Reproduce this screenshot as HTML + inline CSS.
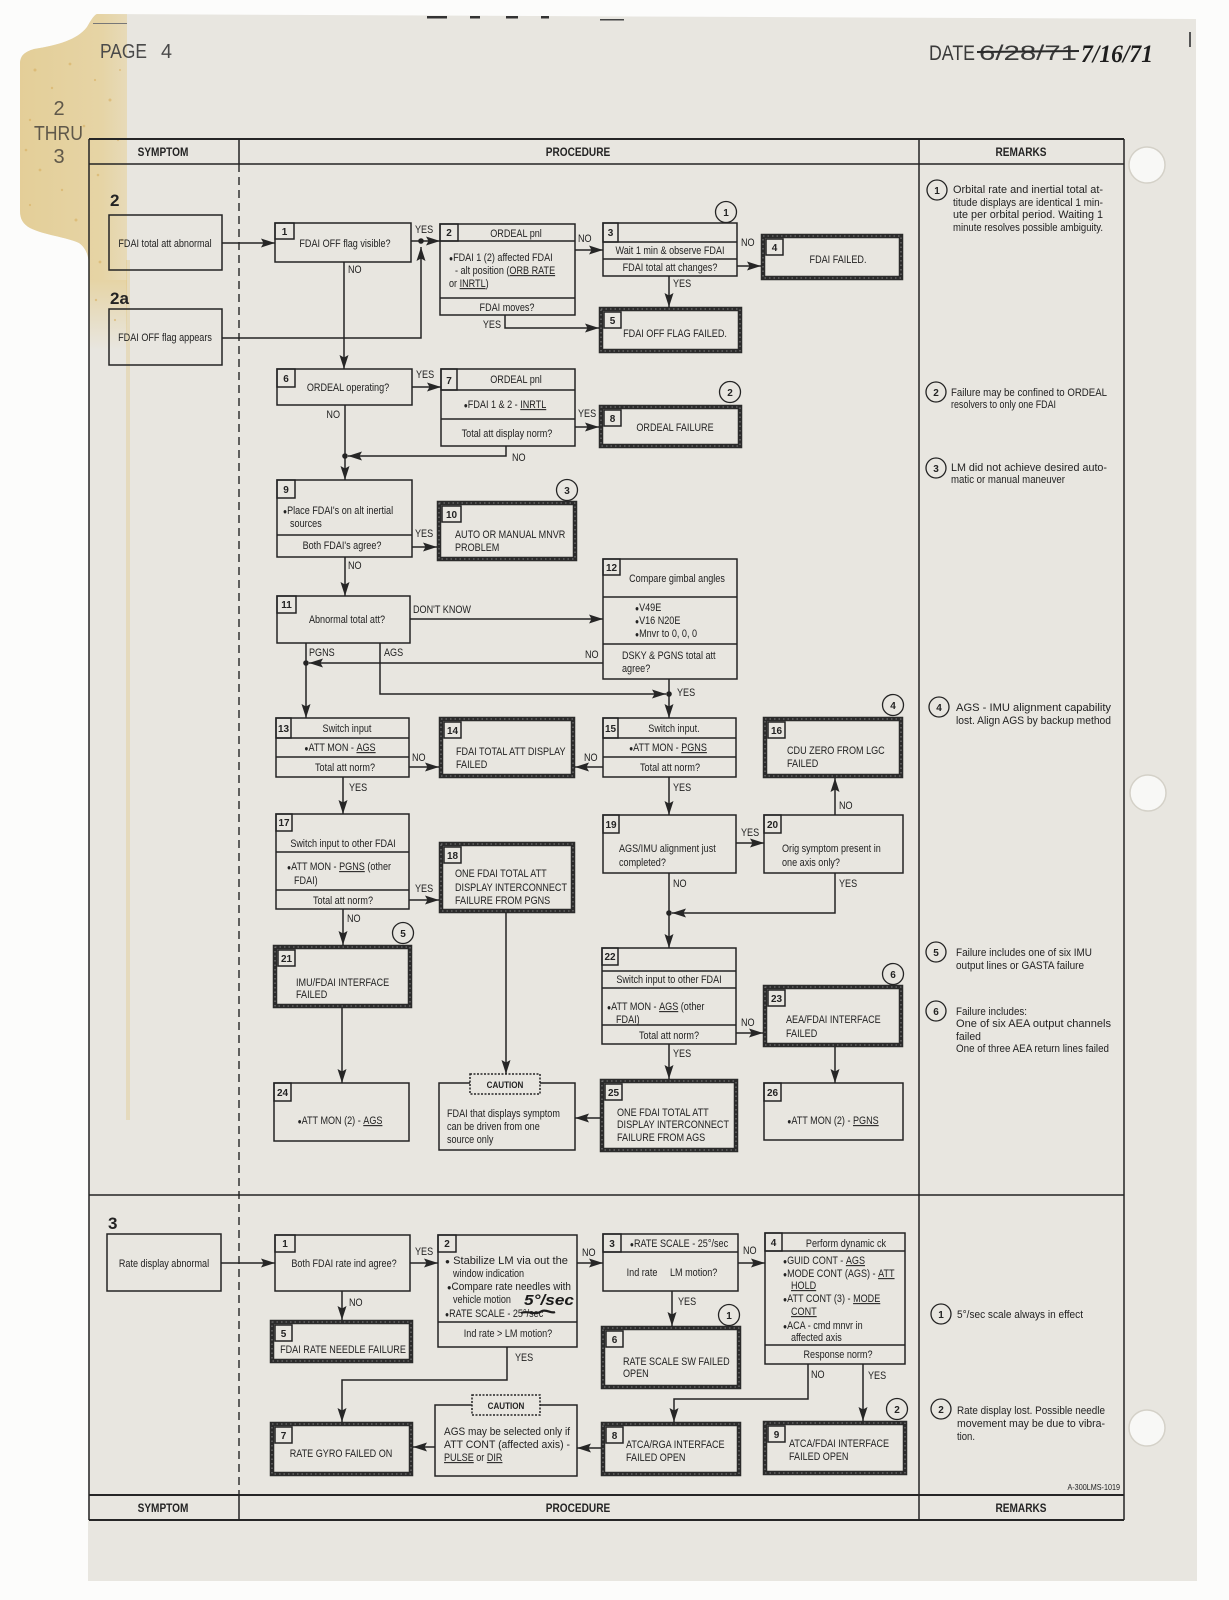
<!DOCTYPE html>
<html><head><meta charset="utf-8"><title>Page 4</title>
<style>html,body{margin:0;padding:0;background:#fcfcfb}svg{display:block}</style></head>
<body>
<svg xmlns="http://www.w3.org/2000/svg" width="1229" height="1600" viewBox="0 0 1229 1600">
<defs>
<marker id="a" markerUnits="userSpaceOnUse" markerWidth="15" markerHeight="11" refX="14" refY="5.5" orient="auto"><path d="M0,1 L14,5.5 L0,10 L2.5,5.5 Z" fill="#262626"/></marker>
<linearGradient id="st" x1="0" x2="1" y1="0" y2="0"><stop offset="0" stop-color="#e3cd95"/><stop offset="0.8" stop-color="#e6d4a5"/><stop offset="1" stop-color="#e7dab8"/></linearGradient>
<linearGradient id="st2" x1="0" x2="0" y1="0" y2="1"><stop offset="0" stop-color="#e6d4a5"/><stop offset="1" stop-color="#e8e6e0"/></linearGradient>
<clipPath id="pg"><path d="M97,14 L1196,19 L1197,1581 L88,1581 L89,267 C89,256 86,248 79,243 C66,237 44,235 30,228 C23,224 20,219 20,211 L20,64 C20,56 24,52 34,49 C58,45 77,40 87,27 C91,20 94,15 97,14 Z"/></clipPath>
</defs>
<style>
text{font-family:"Liberation Sans",Arial,sans-serif;font-size:10.8px;fill:#232323}
.c{text-anchor:middle}
.e{text-anchor:end}
.b{font-weight:bold}
.bx{fill:none;stroke:#242424;stroke-width:1.5}
.tk{fill:none;stroke:#2b2b2b;stroke-width:4.5}
.tx{fill:none;stroke:#9a9a9a;stroke-width:.8;stroke-dasharray:1.5 3}
.l{fill:none;stroke:#242424;stroke-width:1.5}
.m{marker-end:url(#a)}
.n{font-weight:bold;font-size:10px;text-anchor:middle}
.u{text-decoration:underline}
.cc{fill:#e8e6e0;stroke:#242424;stroke-width:1.3}
.dot{fill:#242424}
</style>

<!-- background and page -->
<rect width="1229" height="1600" fill="#fcfcfb"/>
<path d="M97,14 L1196,19 L1197,1581 L88,1581 L89,267 C89,256 86,248 79,243 C66,237 44,235 30,228 C23,224 20,219 20,211 L20,64 C20,56 24,52 34,49 C58,45 77,40 87,27 C91,20 94,15 97,14 Z" fill="#e8e6e0"/>
<g clip-path="url(#pg)">
<rect x="0" y="0" width="127" height="280" fill="url(#st)"/>
<rect x="88" y="280" width="39" height="70" fill="url(#st2)"/>
<rect x="126" y="260" width="4" height="860" fill="#e0c27c" opacity=".35"/>
<g fill="#d6ac5c" opacity=".55">
<circle cx="35" cy="70" r="1.5"/><circle cx="52" cy="88" r="1.2"/><circle cx="70" cy="64" r="1.4"/><circle cx="95" cy="80" r="1.1"/><circle cx="110" cy="100" r="1.5"/><circle cx="30" cy="120" r="1.2"/><circle cx="84" cy="126" r="1.3"/><circle cx="118" cy="140" r="1.1"/><circle cx="40" cy="170" r="1.4"/><circle cx="62" cy="190" r="1.2"/><circle cx="98" cy="175" r="1.3"/><circle cx="30" cy="205" r="1.1"/><circle cx="76" cy="220" r="1.5"/><circle cx="112" cy="205" r="1.2"/><circle cx="122" cy="240" r="1.3"/><circle cx="100" cy="262" r="1.4"/><circle cx="26" cy="150" r="1.3"/><circle cx="58" cy="150" r="1"/><circle cx="104" cy="50" r="1.2"/><circle cx="120" cy="70" r="1"/><circle cx="96" cy="300" r="1.2"/><circle cx="115" cy="320" r="1.1"/>
</g>
</g>
<!-- top marks -->
<rect x="427" y="16" width="20" height="2.5" fill="#333"/>
<rect x="470" y="16" width="10" height="2.5" fill="#333"/>
<rect x="506" y="16" width="12" height="2.5" fill="#333"/>
<rect x="541" y="16" width="8" height="2.5" fill="#333"/>
<rect x="600" y="19" width="24" height="1.5" fill="#444"/>
<rect x="93" y="23" width="34" height="1" fill="#777"/>
<rect x="1189" y="32" width="2" height="15" fill="#555"/>
<!-- holes -->
<g>
<circle cx="1147" cy="165" r="18" fill="#f8f8f6" stroke="#d4d1c8" stroke-width="1.5"/>
<circle cx="1148" cy="793" r="18" fill="#f8f8f6" stroke="#d4d1c8" stroke-width="1.5"/>
<circle cx="1147" cy="1428" r="18" fill="#f8f8f6" stroke="#d4d1c8" stroke-width="1.5"/>
</g>

<!-- page header texts -->
<text x="100" y="58" style="font-size:20px;fill:#4a4a4a" textLength="47" lengthAdjust="spacingAndGlyphs">PAGE</text>
<text x="161" y="58" style="font-size:20px;fill:#4a4a4a" textLength="11" lengthAdjust="spacingAndGlyphs">4</text>
<text class="c" x="59" y="115" style="font-size:20px;fill:#5f584a">2</text>
<text x="34" y="140" style="font-size:20px;fill:#5f584a" textLength="49" lengthAdjust="spacingAndGlyphs">THRU</text>
<text class="c" x="59" y="163" style="font-size:20px;fill:#5f584a">3</text>
<text x="929" y="60" style="font-size:21px;fill:#3a3a3a" textLength="46" lengthAdjust="spacingAndGlyphs">DATE</text>
<text x="979" y="60" style="font-size:21px;fill:#3a3a3a" textLength="98" lengthAdjust="spacingAndGlyphs">6/28/71</text>
<path d="M977,52 L1079,51" stroke="#2a2a2a" stroke-width="2"/>
<text x="1081" y="62" font-style="italic" font-weight="bold" style="font-family:'Liberation Serif',serif;font-size:25px;fill:#1e1e1e" textLength="72" lengthAdjust="spacingAndGlyphs">7/16/71</text>

<!-- table grid -->
<path d="M89,139 H1124" stroke="#262626" stroke-width="2" fill="none"/>
<path d="M89,164 H1124" class="l"/>
<path d="M89,139 V1520" class="l"/>
<path d="M1124,139 V1520" class="l"/>
<path d="M239,139 V164 M239,1495 V1520" class="l"/>
<path d="M239,164 V1495" stroke="#262626" stroke-width="1.4" stroke-dasharray="8 5" fill="none"/>
<path d="M919,139 V1520" class="l"/>
<path d="M89,1195 H1124" class="l"/>
<path d="M89,1495 H1124" stroke="#262626" stroke-width="2" fill="none"/>
<path d="M89,1520 H1124" stroke="#262626" stroke-width="2" fill="none"/>
<text class="c b" style="font-size:12px" transform="translate(163 156) scale(.84 1)">SYMPTOM</text>
<text class="c b" style="font-size:12px" transform="translate(578 156) scale(.84 1)">PROCEDURE</text>
<text class="c b" style="font-size:12px" transform="translate(1021 156) scale(.84 1)">REMARKS</text>
<text class="c b" style="font-size:12px" transform="translate(163 1512) scale(.84 1)">SYMPTOM</text>
<text class="c b" style="font-size:12px" transform="translate(578 1512) scale(.84 1)">PROCEDURE</text>
<text class="c b" style="font-size:12px" transform="translate(1021 1512) scale(.84 1)">REMARKS</text>

<!-- ===== SECTION 2 ===== -->
<text x="110" y="206" font-weight="900" style="font-size:17px">2</text>
<rect class="bx" x="109" y="215" width="113" height="55"/>
<text class="c" transform="translate(165 247) scale(.84 1)">FDAI total att abnormal</text>
<text x="110" y="304" font-weight="900" style="font-size:17px">2a</text>
<rect class="bx" x="109" y="309" width="113" height="56"/>
<text class="c" transform="translate(165 341) scale(.84 1)">FDAI OFF flag appears</text>

<!-- box 1 -->
<rect class="bx" x="275" y="223" width="136" height="39"/>
<rect class="bx" x="275" y="223" width="19" height="16"/><text class="n" x="284.5" y="235">1</text>
<text class="c" transform="translate(345 247) scale(.84 1)">FDAI OFF flag visible?</text>
<!-- box 2 -->
<rect class="bx" x="440" y="224" width="135" height="91"/>
<rect class="bx" x="440" y="224" width="18" height="17"/><text class="n" x="449" y="236">2</text>
<path class="l" d="M440,241 H575 M440,298 H575"/>
<text class="c" transform="translate(516 237) scale(.84 1)">ORDEAL pnl</text>
<text transform="translate(449 261) scale(.84 1)"><tspan font-size="8">●</tspan>FDAI 1 (2) affected FDAI</text>
<text transform="translate(455 274) scale(.84 1)">- alt position (<tspan class="u">ORB RATE</tspan></text>
<text transform="translate(449 287) scale(.84 1)">or <tspan class="u">INRTL</tspan>)</text>
<text class="c" transform="translate(507 311) scale(.84 1)">FDAI moves?</text>
<!-- box 3 -->
<rect class="bx" x="603" y="223" width="134" height="53"/>
<rect class="bx" x="603" y="223" width="15" height="19"/><text class="n" x="610.5" y="236">3</text>
<path class="l" d="M603,242 H737 M603,259 H737"/>
<text class="c" transform="translate(670 254) scale(.84 1)">Wait 1 min &amp; observe FDAI</text>
<text class="c" transform="translate(670 271) scale(.84 1)">FDAI total att changes?</text>
<!-- box 4 -->
<rect class="tk" x="763" y="236" width="138" height="42"/><rect class="tx" x="763" y="236" width="138" height="42"/>
<rect class="bx" x="766" y="239" width="17" height="16"/><text class="n" x="774.5" y="251">4</text>
<text class="c" transform="translate(838 263) scale(.84 1)">FDAI FAILED.</text>
<!-- box 5 -->
<rect class="tk" x="601" y="309" width="139" height="42"/><rect class="tx" x="601" y="309" width="139" height="42"/>
<rect class="bx" x="604" y="312" width="17" height="16"/><text class="n" x="612.5" y="324">5</text>
<text class="c" transform="translate(675 337) scale(.84 1)">FDAI OFF FLAG FAILED.</text>

<!-- box 6 -->
<rect class="bx" x="277" y="369" width="135" height="36"/>
<rect class="bx" x="277" y="369" width="18" height="18"/><text class="n" x="286" y="382">6</text>
<text class="c" transform="translate(348 391) scale(.84 1)">ORDEAL operating?</text>
<!-- box 7 -->
<rect class="bx" x="441" y="369" width="134" height="77"/>
<rect class="bx" x="441" y="369" width="16" height="21"/><text class="n" x="449" y="384">7</text>
<path class="l" d="M441,390 H575 M441,419 H575"/>
<text class="c" transform="translate(516 383) scale(.84 1)">ORDEAL pnl</text>
<text class="c" transform="translate(505 408) scale(.84 1)"><tspan font-size="8">●</tspan>FDAI 1 &amp; 2 - <tspan class="u">INRTL</tspan></text>
<text class="c" transform="translate(507 437) scale(.84 1)">Total att display norm?</text>
<!-- box 8 -->
<rect class="tk" x="601" y="407" width="139" height="39"/><rect class="tx" x="601" y="407" width="139" height="39"/>
<rect class="bx" x="604" y="410" width="17" height="16"/><text class="n" x="612.5" y="422">8</text>
<text class="c" transform="translate(675 431) scale(.84 1)">ORDEAL FAILURE</text>

<!-- box 9 -->
<rect class="bx" x="277" y="480" width="135" height="77"/>
<rect class="bx" x="277" y="480" width="18" height="18"/><text class="n" x="286" y="493">9</text>
<path class="l" d="M277,535 H412"/>
<text transform="translate(283 514) scale(.84 1)"><tspan font-size="8">●</tspan>Place FDAI's on alt inertial</text>
<text transform="translate(290 527) scale(.84 1)">sources</text>
<text class="c" transform="translate(342 549) scale(.84 1)">Both FDAI's agree?</text>
<!-- box 10 -->
<rect class="tk" x="439" y="503" width="136" height="56"/><rect class="tx" x="439" y="503" width="136" height="56"/>
<rect class="bx" x="442" y="506" width="19" height="16"/><text class="n" x="451.5" y="518">10</text>
<text transform="translate(455 538) scale(.84 1)">AUTO OR MANUAL MNVR</text>
<text transform="translate(455 551) scale(.84 1)">PROBLEM</text>

<!-- box 11 -->
<rect class="bx" x="277" y="596" width="133" height="47"/>
<rect class="bx" x="277" y="596" width="19" height="17"/><text class="n" x="286.5" y="608">11</text>
<text class="c" transform="translate(347 623) scale(.84 1)">Abnormal total att?</text>
<!-- box 12 -->
<rect class="bx" x="603" y="559" width="134" height="120"/>
<rect class="bx" x="603" y="559" width="17" height="16"/><text class="n" x="611.5" y="571">12</text>
<path class="l" d="M603,597 H737 M603,644 H737"/>
<text class="c" transform="translate(677 582) scale(.84 1)">Compare gimbal angles</text>
<text transform="translate(635 611) scale(.84 1)"><tspan font-size="8">●</tspan>V49E</text>
<text transform="translate(635 624) scale(.84 1)"><tspan font-size="8">●</tspan>V16 N20E</text>
<text transform="translate(635 637) scale(.84 1)"><tspan font-size="8">●</tspan>Mnvr to 0, 0, 0</text>
<text transform="translate(622 659) scale(.84 1)">DSKY &amp; PGNS total att</text>
<text transform="translate(622 672) scale(.84 1)">agree?</text>

<!-- box 13 -->
<rect class="bx" x="276" y="718" width="133" height="59"/>
<rect class="bx" x="276" y="718" width="15" height="20"/><text class="n" x="283.5" y="732">13</text>
<path class="l" d="M276,738 H409 M276,757 H409"/>
<text class="c" transform="translate(347 732) scale(.84 1)">Switch input</text>
<text class="c" transform="translate(340 751) scale(.84 1)"><tspan font-size="8">●</tspan>ATT MON - <tspan class="u">AGS</tspan></text>
<text class="c" transform="translate(345 771) scale(.84 1)">Total att norm?</text>
<!-- box 14 -->
<rect class="tk" x="441" y="719" width="132" height="57"/><rect class="tx" x="441" y="719" width="132" height="57"/>
<rect class="bx" x="444" y="722" width="17" height="16"/><text class="n" x="452.5" y="734">14</text>
<text transform="translate(456 755) scale(.84 1)">FDAI TOTAL ATT DISPLAY</text>
<text transform="translate(456 768) scale(.84 1)">FAILED</text>
<!-- box 15 -->
<rect class="bx" x="603" y="718" width="133" height="59"/>
<rect class="bx" x="603" y="718" width="15" height="20"/><text class="n" x="610.5" y="732">15</text>
<path class="l" d="M603,738 H736 M603,757 H736"/>
<text class="c" transform="translate(674 732) scale(.84 1)">Switch input.</text>
<text class="c" transform="translate(668 751) scale(.84 1)"><tspan font-size="8">●</tspan>ATT MON - <tspan class="u">PGNS</tspan></text>
<text class="c" transform="translate(670 771) scale(.84 1)">Total att norm?</text>
<!-- box 16 -->
<rect class="tk" x="765" y="719" width="136" height="57"/><rect class="tx" x="765" y="719" width="136" height="57"/>
<rect class="bx" x="768" y="722" width="17" height="16"/><text class="n" x="776.5" y="734">16</text>
<text transform="translate(787 754) scale(.84 1)">CDU ZERO FROM LGC</text>
<text transform="translate(787 767) scale(.84 1)">FAILED</text>

<!-- box 17 -->
<rect class="bx" x="276" y="814" width="133" height="95"/>
<rect class="bx" x="276" y="814" width="16" height="17"/><text class="n" x="284" y="826">17</text>
<path class="l" d="M276,852 H409 M276,890 H409"/>
<text class="c" transform="translate(343 847) scale(.84 1)">Switch input to other FDAI</text>
<text transform="translate(287 870) scale(.84 1)"><tspan font-size="8">●</tspan>ATT MON - <tspan class="u">PGNS</tspan> (other</text>
<text transform="translate(294 884) scale(.84 1)">FDAI)</text>
<text class="c" transform="translate(343 904) scale(.84 1)">Total att norm?</text>
<!-- box 18 -->
<rect class="tk" x="441" y="844" width="132" height="67"/><rect class="tx" x="441" y="844" width="132" height="67"/>
<rect class="bx" x="444" y="847" width="17" height="16"/><text class="n" x="452.5" y="859">18</text>
<text transform="translate(455 877) scale(.84 1)">ONE FDAI TOTAL ATT</text>
<text transform="translate(455 891) scale(.84 1)">DISPLAY INTERCONNECT</text>
<text transform="translate(455 904) scale(.84 1)">FAILURE FROM PGNS</text>
<!-- box 19 -->
<rect class="bx" x="603" y="815" width="133" height="58"/>
<rect class="bx" x="603" y="815" width="16" height="18"/><text class="n" x="611" y="828">19</text>
<text transform="translate(619 852) scale(.84 1)">AGS/IMU alignment just</text>
<text transform="translate(619 866) scale(.84 1)">completed?</text>
<!-- box 20 -->
<rect class="bx" x="764" y="815" width="139" height="58"/>
<rect class="bx" x="764" y="815" width="17" height="18"/><text class="n" x="772.5" y="828">20</text>
<text transform="translate(782 852) scale(.84 1)">Orig symptom present in</text>
<text transform="translate(782 866) scale(.84 1)">one axis only?</text>

<!-- box 21 -->
<rect class="tk" x="275" y="947" width="135" height="59"/><rect class="tx" x="275" y="947" width="135" height="59"/>
<rect class="bx" x="278" y="950" width="17" height="16"/><text class="n" x="286.5" y="962">21</text>
<text transform="translate(296 986) scale(.84 1)">IMU/FDAI INTERFACE</text>
<text transform="translate(296 998) scale(.84 1)">FAILED</text>
<!-- box 24 -->
<rect class="bx" x="274" y="1083" width="135" height="58"/>
<rect class="bx" x="274" y="1083" width="17" height="18"/><text class="n" x="282.5" y="1096">24</text>
<text class="c" transform="translate(340 1124) scale(.84 1)"><tspan font-size="8">●</tspan>ATT MON (2) - <tspan class="u">AGS</tspan></text>
<!-- caution 1 -->
<rect class="bx" x="439" y="1083" width="136" height="67"/>
<rect x="470" y="1074" width="70" height="20" fill="#e8e6e0" stroke="#242424" stroke-width="1.5" stroke-dasharray="2 1.5"/>
<text class="c b" style="font-size:9.5px" transform="translate(505 1088) scale(.85 1)">CAUTION</text>
<text transform="translate(447 1117) scale(.84 1)">FDAI that displays symptom</text>
<text transform="translate(447 1130) scale(.84 1)">can be driven from one</text>
<text transform="translate(447 1143) scale(.84 1)">source only</text>
<!-- box 22 -->
<rect class="bx" x="602" y="948" width="134" height="96"/>
<rect class="bx" x="602" y="948" width="16" height="17"/><text class="n" x="610" y="960">22</text>
<path class="l" d="M602,971 H736 M602,988 H736 M602,1025 H736"/>
<text class="c" transform="translate(669 983) scale(.84 1)">Switch input to other FDAI</text>
<text transform="translate(607 1010) scale(.84 1)"><tspan font-size="8">●</tspan>ATT MON - <tspan class="u">AGS</tspan> (other</text>
<text transform="translate(616 1023) scale(.84 1)">FDAI)</text>
<text class="c" transform="translate(669 1039) scale(.84 1)">Total att norm?</text>
<!-- box 23 -->
<rect class="tk" x="765" y="987" width="136" height="58"/><rect class="tx" x="765" y="987" width="136" height="58"/>
<rect class="bx" x="768" y="990" width="17" height="16"/><text class="n" x="776.5" y="1002">23</text>
<text transform="translate(786 1023) scale(.84 1)">AEA/FDAI INTERFACE</text>
<text transform="translate(786 1037) scale(.84 1)">FAILED</text>
<!-- box 25 -->
<rect class="tk" x="602" y="1081" width="134" height="69"/><rect class="tx" x="602" y="1081" width="134" height="69"/>
<rect class="bx" x="605" y="1084" width="17" height="16"/><text class="n" x="613.5" y="1096">25</text>
<text transform="translate(617 1116) scale(.84 1)">ONE FDAI TOTAL ATT</text>
<text transform="translate(617 1128) scale(.84 1)">DISPLAY INTERCONNECT</text>
<text transform="translate(617 1141) scale(.84 1)">FAILURE FROM AGS</text>
<!-- box 26 -->
<rect class="bx" x="764" y="1083" width="139" height="57"/>
<rect class="bx" x="764" y="1083" width="17" height="18"/><text class="n" x="772.5" y="1096">26</text>
<text class="c" transform="translate(833 1124) scale(.84 1)"><tspan font-size="8">●</tspan>ATT MON (2) - <tspan class="u">PGNS</tspan></text>

<!-- connectors section 2 -->
<path class="l m" d="M222,243 H275"/>
<path class="l m" d="M222,338 H421 V247"/>
<path class="l m" d="M411,241 H440"/>
<path class="l m" d="M344,262 V369"/>
<path class="l m" d="M575,250 H603"/>
<path class="l m" d="M737,266 H761"/>
<path class="l m" d="M669,276 V307"/>
<path class="l m" d="M505,315 V328 H599"/>
<path class="l m" d="M412,387 H441"/>
<path class="l m" d="M575,427 H599"/>
<path class="l m" d="M506,446 V456 H348"/>
<path class="l m" d="M345,405 V480"/>
<path class="l m" d="M412,547 H437"/>
<path class="l m" d="M345,557 V596"/>
<path class="l m" d="M410,619 H603"/>
<path class="l m" d="M306,643 V718"/>
<path class="l m" d="M380,643 V694 H666"/>
<path class="l m" d="M603,663 H309"/>
<path class="l m" d="M669,679 V718"/>
<path class="l m" d="M409,767 H439"/>
<path class="l m" d="M603,767 H575"/>
<path class="l m" d="M343,777 V814"/>
<path class="l m" d="M669,777 V815"/>
<path class="l m" d="M409,900 H439"/>
<path class="l m" d="M736,843 H764"/>
<path class="l m" d="M835,815 V778"/>
<path class="l m" d="M835,873 V913 H672"/>
<path class="l m" d="M669,873 V948"/>
<path class="l m" d="M343,909 V945"/>
<path class="l m" d="M342,1008 V1083"/>
<path class="l m" d="M506,913 V1074"/>
<path class="l m" d="M736,1033 H763"/>
<path class="l m" d="M669,1044 V1079"/>
<path class="l m" d="M835,1047 V1083"/>
<path class="l m" d="M600,1118 H575"/>
<circle class="dot" cx="421" cy="241" r="2.8"/>
<circle class="dot" cx="345" cy="456" r="2.8"/>
<circle class="dot" cx="306" cy="663" r="2.8"/>
<circle class="dot" cx="669" cy="694" r="2.8"/>
<circle class="dot" cx="669" cy="913" r="2.8"/>

<!-- labels section 2 -->
<g>
<text transform="translate(415 233) scale(.84 1)">YES</text>
<text transform="translate(348 273) scale(.84 1)">NO</text>
<text transform="translate(578 242) scale(.84 1)">NO</text>
<text transform="translate(741 246) scale(.84 1)">NO</text>
<text transform="translate(673 287) scale(.84 1)">YES</text>
<text class="e" transform="translate(501 328) scale(.84 1)">YES</text>
<text transform="translate(416 378) scale(.84 1)">YES</text>
<text transform="translate(578 417) scale(.84 1)">YES</text>
<text transform="translate(512 461) scale(.84 1)">NO</text>
<text class="e" transform="translate(340 418) scale(.84 1)">NO</text>
<text transform="translate(415 537) scale(.84 1)">YES</text>
<text transform="translate(348 569) scale(.84 1)">NO</text>
<text transform="translate(413 613) scale(.84 1)">DON'T KNOW</text>
<text transform="translate(309 656) scale(.84 1)">PGNS</text>
<text transform="translate(384 656) scale(.84 1)">AGS</text>
<text transform="translate(585 658) scale(.84 1)">NO</text>
<text transform="translate(677 696) scale(.84 1)">YES</text>
<text transform="translate(412 761) scale(.84 1)">NO</text>
<text transform="translate(584 761) scale(.84 1)">NO</text>
<text transform="translate(349 791) scale(.84 1)">YES</text>
<text transform="translate(673 791) scale(.84 1)">YES</text>
<text transform="translate(415 892) scale(.84 1)">YES</text>
<text transform="translate(741 836) scale(.84 1)">YES</text>
<text transform="translate(839 809) scale(.84 1)">NO</text>
<text transform="translate(839 887) scale(.84 1)">YES</text>
<text transform="translate(673 887) scale(.84 1)">NO</text>
<text transform="translate(347 922) scale(.84 1)">NO</text>
<text transform="translate(741 1026) scale(.84 1)">NO</text>
<text transform="translate(673 1057) scale(.84 1)">YES</text>
</g>

<!-- callout circles section 2 -->
<circle class="cc" cx="726" cy="212" r="10.5"/><text class="n" x="726" y="216">1</text>
<circle class="cc" cx="730" cy="392" r="10.5"/><text class="n" x="730" y="396">2</text>
<circle class="cc" cx="567" cy="490" r="10.5"/><text class="n" x="567" y="494">3</text>
<circle class="cc" cx="893" cy="705" r="10.5"/><text class="n" x="893" y="709">4</text>
<circle class="cc" cx="403" cy="933" r="10.5"/><text class="n" x="403" y="937">5</text>
<circle class="cc" cx="893" cy="974" r="10.5"/><text class="n" x="893" y="978">6</text>

<!-- ===== SECTION 3 ===== -->
<text x="108" y="1229" font-weight="900" style="font-size:17px">3</text>
<rect class="bx" x="107" y="1234" width="114" height="57"/>
<text class="c" transform="translate(164 1267) scale(.84 1)">Rate display abnormal</text>
<!-- box 1 -->
<rect class="bx" x="275" y="1235" width="135" height="56"/>
<rect class="bx" x="275" y="1235" width="20" height="17"/><text class="n" x="285" y="1247">1</text>
<text class="c" transform="translate(344 1267) scale(.84 1)">Both FDAI rate ind agree?</text>
<!-- box 2 -->
<rect class="bx" x="438" y="1235" width="139" height="112"/>
<rect class="bx" x="438" y="1235" width="18" height="17"/><text class="n" x="447" y="1247">2</text>
<path class="l" d="M438,1322 H577"/>
<text x="445" y="1264" textLength="123" lengthAdjust="spacingAndGlyphs"><tspan font-size="8">●</tspan> Stabilize LM via out the</text>
<text transform="translate(453 1277) scale(.84 1)">window indication</text>
<text x="447" y="1290" textLength="124" lengthAdjust="spacingAndGlyphs"><tspan font-size="8">●</tspan>Compare rate needles with</text>
<text transform="translate(453 1303) scale(.84 1)">vehicle motion</text>
<text transform="translate(445 1317) scale(.84 1)"><tspan font-size="8">●</tspan>RATE SCALE - 25°/sec</text>
<path d="M521,1313 C528,1310 535,1316 542,1311 C547,1309 551,1314 555,1312" stroke="#1e1e1e" stroke-width="2.2" fill="none"/>
<text x="524" y="1305" font-style="italic" font-weight="bold" style="font-size:15px;fill:#1a1a1a" textLength="50" lengthAdjust="spacingAndGlyphs">5°/sec</text>
<text class="c" transform="translate(508 1337) scale(.84 1)">Ind rate &gt; LM motion?</text>
<!-- box 5 -->
<rect class="tk" x="272" y="1322" width="139" height="39"/><rect class="tx" x="272" y="1322" width="139" height="39"/>
<rect class="bx" x="275" y="1325" width="17" height="16"/><text class="n" x="283.5" y="1337">5</text>
<text class="c" transform="translate(343 1353) scale(.84 1)">FDAI RATE NEEDLE FAILURE</text>
<!-- box 3 -->
<rect class="bx" x="603" y="1234" width="135" height="57"/>
<rect class="bx" x="603" y="1234" width="18" height="18"/><text class="n" x="612" y="1247">3</text>
<path class="l" d="M603,1252 H738"/>
<text class="c" transform="translate(679 1247) scale(.84 1)"><tspan font-size="8">●</tspan>RATE SCALE - 25°/sec</text>
<text class="c" transform="translate(672 1276) scale(.84 1)">Ind rate &#160;&#160;&#160;&#160;LM motion?</text>
<!-- box 4 -->
<rect class="bx" x="765" y="1233" width="140" height="131"/>
<rect class="bx" x="765" y="1233" width="17" height="18"/><text class="n" x="773.5" y="1246">4</text>
<path class="l" d="M765,1251 H905 M765,1345 H905"/>
<text class="c" transform="translate(846 1247) scale(.84 1)">Perform dynamic ck</text>
<text transform="translate(783 1264) scale(.84 1)"><tspan font-size="8">●</tspan>GUID CONT - <tspan class="u">AGS</tspan></text>
<text transform="translate(783 1277) scale(.84 1)"><tspan font-size="8">●</tspan>MODE CONT (AGS) - <tspan class="u">ATT</tspan></text>
<text transform="translate(791 1289) scale(.84 1)"><tspan class="u">HOLD</tspan></text>
<text transform="translate(783 1302) scale(.84 1)"><tspan font-size="8">●</tspan>ATT CONT (3) - <tspan class="u">MODE</tspan></text>
<text transform="translate(791 1315) scale(.84 1)"><tspan class="u">CONT</tspan></text>
<text transform="translate(783 1329) scale(.84 1)"><tspan font-size="8">●</tspan>ACA - cmd mnvr in</text>
<text transform="translate(791 1341) scale(.84 1)">affected axis</text>
<text class="c" transform="translate(838 1358) scale(.84 1)">Response norm?</text>
<!-- box 6 -->
<rect class="tk" x="603" y="1328" width="136" height="59"/><rect class="tx" x="603" y="1328" width="136" height="59"/>
<rect class="bx" x="606" y="1331" width="17" height="16"/><text class="n" x="614.5" y="1343">6</text>
<text transform="translate(623 1365) scale(.84 1)">RATE SCALE SW FAILED</text>
<text transform="translate(623 1377) scale(.84 1)">OPEN</text>
<!-- box 7 -->
<rect class="tk" x="272" y="1424" width="139" height="50"/><rect class="tx" x="272" y="1424" width="139" height="50"/>
<rect class="bx" x="275" y="1427" width="17" height="16"/><text class="n" x="283.5" y="1439">7</text>
<text class="c" transform="translate(341 1457) scale(.84 1)">RATE GYRO FAILED ON</text>
<!-- caution 2 -->
<rect class="bx" x="435" y="1405" width="142" height="71"/>
<rect x="472" y="1395" width="68" height="20" fill="#e8e6e0" stroke="#242424" stroke-width="1.5" stroke-dasharray="2 1.5"/>
<text class="c b" style="font-size:9.5px" transform="translate(506 1409) scale(.85 1)">CAUTION</text>
<text x="444" y="1435" textLength="126" lengthAdjust="spacingAndGlyphs">AGS may be selected only if</text>
<text x="444" y="1448" textLength="126" lengthAdjust="spacingAndGlyphs">ATT CONT (affected axis) -</text>
<text transform="translate(444 1461) scale(.84 1)"><tspan class="u">PULSE</tspan> or <tspan class="u">DIR</tspan></text>
<!-- box 8 -->
<rect class="tk" x="603" y="1424" width="136" height="50"/><rect class="tx" x="603" y="1424" width="136" height="50"/>
<rect class="bx" x="606" y="1427" width="17" height="16"/><text class="n" x="614.5" y="1439">8</text>
<text transform="translate(626 1448) scale(.84 1)">ATCA/RGA INTERFACE</text>
<text transform="translate(626 1461) scale(.84 1)">FAILED OPEN</text>
<!-- box 9 -->
<rect class="tk" x="765" y="1423" width="140" height="50"/><rect class="tx" x="765" y="1423" width="140" height="50"/>
<rect class="bx" x="768" y="1426" width="17" height="16"/><text class="n" x="776.5" y="1438">9</text>
<text transform="translate(789 1447) scale(.84 1)">ATCA/FDAI INTERFACE</text>
<text transform="translate(789 1460) scale(.84 1)">FAILED OPEN</text>

<!-- connectors section 3 -->
<path class="l m" d="M221,1263 H275"/>
<path class="l m" d="M410,1263 H438"/>
<path class="l m" d="M342,1291 V1320"/>
<path class="l m" d="M577,1263 H603"/>
<path class="l m" d="M507,1347 V1380 H342 V1422"/>
<path class="l m" d="M738,1263 H765"/>
<path class="l m" d="M672,1291 V1326"/>
<path class="l m" d="M808,1364 V1399 H674 V1422"/>
<path class="l m" d="M863,1364 V1421"/>
<path class="l m" d="M601,1448 H577"/>
<path class="l m" d="M435,1447 H413"/>
<g>
<text transform="translate(415 1255) scale(.84 1)">YES</text>
<text transform="translate(349 1306) scale(.84 1)">NO</text>
<text transform="translate(582 1256) scale(.84 1)">NO</text>
<text transform="translate(515 1361) scale(.84 1)">YES</text>
<text transform="translate(743 1254) scale(.84 1)">NO</text>
<text transform="translate(678 1305) scale(.84 1)">YES</text>
<text transform="translate(811 1378) scale(.84 1)">NO</text>
<text transform="translate(868 1379) scale(.84 1)">YES</text>
</g>
<circle class="cc" cx="729" cy="1315" r="10.5"/><text class="n" x="729" y="1319">1</text>
<circle class="cc" cx="897" cy="1409" r="10.5"/><text class="n" x="897" y="1413">2</text>

<text class="e" style="font-size:8.5px" transform="translate(1120 1490) scale(.85 1)">A-300LMS-1019</text>

<!-- ===== REMARKS ===== -->
<circle class="cc" cx="937" cy="190" r="10"/><text class="n" x="937" y="194">1</text>
<text x="953" y="193" textLength="150" lengthAdjust="spacingAndGlyphs">Orbital rate and inertial total at-</text>
<text x="953" y="206" textLength="150" lengthAdjust="spacingAndGlyphs">titude displays are identical 1 min-</text>
<text x="953" y="218" textLength="150" lengthAdjust="spacingAndGlyphs">ute per orbital period. Waiting 1</text>
<text x="953" y="231" textLength="150" lengthAdjust="spacingAndGlyphs">minute resolves possible ambiguity.</text>

<circle class="cc" cx="936" cy="392" r="10"/><text class="n" x="936" y="396">2</text>
<text x="951" y="396" textLength="156" lengthAdjust="spacingAndGlyphs">Failure may be confined to ORDEAL</text>
<text x="951" y="408" textLength="105" lengthAdjust="spacingAndGlyphs">resolvers to only one FDAI</text>

<circle class="cc" cx="936" cy="468" r="10"/><text class="n" x="936" y="472">3</text>
<text x="951" y="471" textLength="156" lengthAdjust="spacingAndGlyphs">LM did not achieve desired auto-</text>
<text x="951" y="483" textLength="114" lengthAdjust="spacingAndGlyphs">matic or manual maneuver</text>

<circle class="cc" cx="939" cy="707" r="10"/><text class="n" x="939" y="711">4</text>
<text x="956" y="711" textLength="155" lengthAdjust="spacingAndGlyphs">AGS - IMU   alignment   capability</text>
<text x="956" y="724" textLength="155" lengthAdjust="spacingAndGlyphs">lost. Align AGS by backup method</text>

<circle class="cc" cx="936" cy="952" r="10"/><text class="n" x="936" y="956">5</text>
<text x="956" y="956" textLength="136" lengthAdjust="spacingAndGlyphs">Failure includes one of six IMU</text>
<text x="956" y="969" textLength="128" lengthAdjust="spacingAndGlyphs">output lines or GASTA failure</text>

<circle class="cc" cx="936" cy="1011" r="10"/><text class="n" x="936" y="1015">6</text>
<text x="956" y="1015" textLength="71" lengthAdjust="spacingAndGlyphs">Failure includes:</text>
<text x="956" y="1027" textLength="155" lengthAdjust="spacingAndGlyphs">One of six AEA output channels</text>
<text x="956" y="1040" textLength="25" lengthAdjust="spacingAndGlyphs">failed</text>
<text x="956" y="1052" textLength="153" lengthAdjust="spacingAndGlyphs">One of three AEA return lines failed</text>

<circle class="cc" cx="941" cy="1314" r="10"/><text class="n" x="941" y="1318">1</text>
<text x="957" y="1318" textLength="126" lengthAdjust="spacingAndGlyphs">5°/sec scale always in effect</text>

<circle class="cc" cx="941" cy="1409" r="10"/><text class="n" x="941" y="1413">2</text>
<text x="957" y="1414" textLength="148" lengthAdjust="spacingAndGlyphs">Rate display lost. Possible needle</text>
<text x="957" y="1427" textLength="148" lengthAdjust="spacingAndGlyphs">movement may be due to vibra-</text>
<text x="957" y="1440" textLength="18" lengthAdjust="spacingAndGlyphs">tion.</text>
</svg>
</body></html>
